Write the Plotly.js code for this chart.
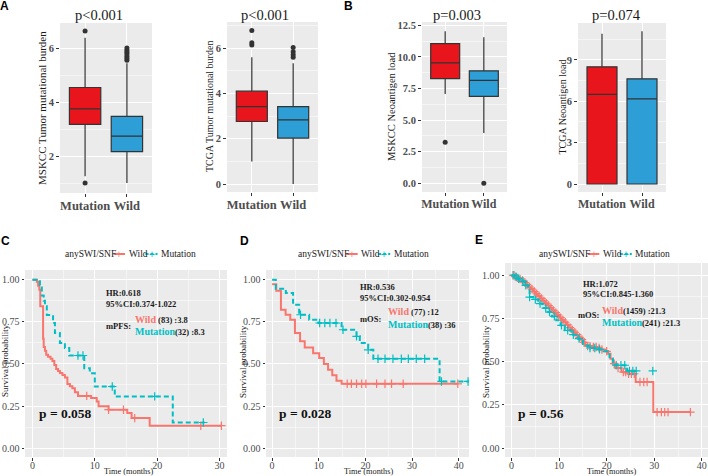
<!DOCTYPE html>
<html><head><meta charset="utf-8">
<script src="https://cdn.plot.ly/plotly-3.0.1.min.js"></script>
<style>html,body{margin:0;padding:0;background:#fff}#chart{width:708px;height:476px}</style>
</head><body><div id="chart"></div>
<script>
// ---------------- DATA ----------------
const boxCats = ['Mutation', 'Wild'];
// A left: MSKCC tumor mutational burden
const a1Q1 = [3.17, 2.16], a1Med = [3.75, 2.74], a1Q3 = [4.54, 3.47], a1Lo = [1.25, 1.0], a1Hi = [6.38, 5.44];
const a1OutMut = [1.0, 6.63], a1OutWild = [5.55, 5.62, 5.7, 5.78, 5.85, 5.92, 6.0];
// A right: TCGA tumor mutational burden
const a2Q1 = [2.76, 2.03], a2Med = [3.42, 2.83], a2Q3 = [4.1, 3.42], a2Lo = [1.0, 0.0], a2Hi = [5.6, 5.33];
const a2OutMut = [6.14, 6.24, 6.77], a2OutWild = [5.59, 5.7, 5.84, 6.02];
// B left: MSKCC neoantigen load
const b1Q1 = [8.28, 6.87], b1Med = [9.52, 8.14], b1Q3 = [11.05, 8.9], b1Lo = [7.06, 3.97], b1Hi = [12.03, 11.56];
const b1OutMut = [3.25], b1OutWild = [0.0];
// B right: TCGA neoantigen load
const b2Q1 = [0, 0], b2Med = [6.5, 6.18], b2Q3 = [8.5, 7.63], b2Lo = [0, 0], b2Hi = [10.9, 11.09];
const boxTitles = ['p<0.001', 'p<0.001', 'p=0.003', 'p=0.074'];
const boxYTitles = ['MSKCC Tumor mutational burden', 'TCGA Tumor mutational burden', 'MSKCC Neoantigen load', 'TCGA Neoantigen load'];

// C: PFS
const cWildT = [0, 0.7, 0.9, 1.1, 1.25, 1.7, 1.8, 2.0, 2.2, 2.5, 2.9, 3.2, 3.5, 3.8, 4.1, 4.4, 4.8, 5.2, 5.6, 6.0, 6.4, 6.8, 7.3, 9.4, 10.3, 10.6, 12.2, 15.2, 15.9, 18.8];
const cWildS = [1.0, 0.988, 0.964, 0.94, 0.843, 0.65, 0.60, 0.578, 0.554, 0.542, 0.53, 0.518, 0.494, 0.47, 0.458, 0.446, 0.434, 0.42, 0.38, 0.368, 0.356, 0.332, 0.31, 0.297, 0.277, 0.248, 0.228, 0.208, 0.178, 0.133];
const cWildEnd = 30.3;
const cWildCens = [8.7, 12.2, 14.6, 16.4, 27.0, 30.3];
const cMutT = [0, 1.2, 1.5, 1.8, 2.0, 2.3, 3.3, 3.6, 4.4, 5.2, 5.9, 8.3, 9.2, 10.0, 13.2, 22.5];
const cMutS = [1.0, 0.969, 0.906, 0.875, 0.843, 0.79, 0.743, 0.683, 0.624, 0.594, 0.55, 0.475, 0.445, 0.366, 0.307, 0.152];
const cMutEnd = 27.6;
const cMutCens = [7.3, 8.1, 12.8, 19.6, 27.4];

// D: OS
const dWildT = [0, 0.9, 1.9, 2.9, 3.9, 4.9, 6.0, 7.0, 8.8, 10.1, 11.1, 12.0, 12.9, 13.8, 14.9];
const dWildS = [0.974, 0.935, 0.822, 0.792, 0.763, 0.683, 0.634, 0.598, 0.564, 0.535, 0.499, 0.465, 0.432, 0.40, 0.382];
const dWildEnd = 39.8;
const dWildCens = [16.1, 17.0, 18.1, 19.2, 20.1, 22.4, 24.2, 25.6, 28.1, 39.8];
const dMutT = [0, 0.8, 2.95, 4.5, 5.8, 7.95, 9.9, 14.9, 18.1, 18.8, 20.6, 21.7, 35.9];
const dMutS = [1.0, 0.947, 0.921, 0.852, 0.792, 0.763, 0.743, 0.703, 0.664, 0.624, 0.584, 0.531, 0.396];
const dMutEnd = 42.2;
const dMutCens = [6.1, 10.2, 11.3, 12.4, 13.7, 15.2, 18.1, 20.6, 22.7, 24.2, 25.9, 27.7, 29.2, 30.9, 32.7, 36.3, 42.0];

// E: OS (TCGA)
const eWildT = [0, 0.5, 1.0, 1.5, 2.0, 2.5, 3.0, 3.5, 4.0, 4.5, 5.0, 5.5, 6.0, 6.5, 7.0, 7.5, 8.0, 8.5, 9.0, 9.5, 10.0, 10.5, 11.0, 11.5, 12.0, 12.5, 13.0, 13.5, 14.0, 14.5, 15.0, 15.5, 16.0, 17.0, 18.0, 18.8, 19.6, 20.3, 20.8, 21.3, 22.0, 23.1, 24.5, 26.1, 29.8];
const eWildS = [1.0, 0.992, 0.985, 0.978, 0.970, 0.958, 0.946, 0.932, 0.920, 0.906, 0.893, 0.880, 0.866, 0.852, 0.838, 0.825, 0.812, 0.797, 0.784, 0.770, 0.755, 0.741, 0.728, 0.713, 0.697, 0.683, 0.670, 0.656, 0.641, 0.628, 0.612, 0.598, 0.590, 0.585, 0.579, 0.570, 0.560, 0.546, 0.517, 0.488, 0.463, 0.44, 0.43, 0.382, 0.208];
const eWildEnd = 37.6;
const eWildCens = [0.3, 0.8, 1.3, 1.8, 2.3, 2.8, 3.3, 3.8, 4.3, 4.8, 5.3, 5.8, 6.3, 6.8, 7.3, 7.8, 8.3, 8.8, 9.3, 9.8, 10.3, 10.8, 11.3, 11.8, 12.3, 12.8, 13.3, 13.8, 14.3, 14.8, 15.3, 16.0, 16.5, 17.2, 17.8, 18.4, 19.0, 20.0, 21.6, 22.4, 23.5, 24.0, 24.6, 25.2, 25.8, 27.0, 27.8, 28.5, 30.6, 31.5, 32.2, 32.9, 37.6];
const eMutT = [0, 0.6, 1.2, 2.0, 2.8, 3.5, 3.8, 4.6, 5.6, 6.5, 7.7, 8.5, 9.4, 10.3, 11.2, 12.6, 14.0, 15.0, 16.1, 18.2, 19.4, 20.6, 21.3, 24.3];
const eMutS = [1.0, 0.99, 0.98, 0.965, 0.942, 0.92, 0.874, 0.86, 0.836, 0.81, 0.787, 0.762, 0.739, 0.71, 0.681, 0.656, 0.633, 0.594, 0.579, 0.571, 0.56, 0.517, 0.479, 0.446];
const eMutEnd = 26.2;
const eMutCens = [0.5, 1.0, 1.5, 2.4, 3.0, 3.8, 5.0, 6.0, 7.2, 8.0, 9.0, 10.5, 11.8, 13.0, 14.2, 16.5, 17.5, 18.5, 22.0, 23.0, 23.8, 24.8, 25.5, 26.2, 29.7];

const kmHR = ['HR:0.618', 'HR:0.536', 'HR:1.072'];
const kmCI = ['95%CI:0.374-1.022', '95%CI:0.302-0.954', '95%CI:0.845-1.360'];
const kmMedLabel = ['mPFS:', 'mOS:', 'mOS:'];
const kmWildTxt = [' (83) :3.8', ' (77) :12', '(1459) :21.3'];
const kmMutTxt = ['(32) :8.3', '(38) :36', '(241) :21.3'];
const kmP = ['p = 0.058', 'p = 0.028', 'p = 0.56'];
const legendTitle = 'anySWI/SNF';
const groupNames = ['Wild', 'Mutation'];

// ---------------- STYLE / LAYOUT ----------------
const W = 708, H = 476;
const SERIF = 'Liberation Serif, Times New Roman, Times, serif';
const SANS = 'Liberation Sans, Arial, sans-serif';
const RED = '#F8766D', TEAL = '#00BFC4';
const BOXRED = '#E8161C', BOXBLUE = '#2E9FD6';
const BG = '#EBEBEB';
const px = v => v / W;
const py = v => 1 - v / H;

const traces = [];
const layout = {
  width: W, height: H, margin: {l: 0, r: 0, t: 0, b: 0},
  paper_bgcolor: '#fff', plot_bgcolor: BG, showlegend: false,
  annotations: [], shapes: [], font: {family: SERIF, color: '#333'}
};

function axName(n, base) { return base + (n === 1 ? '' : n); }

// box panels
const boxPanels = [
  {xl: 60, xr: 152, yt: 23, yb: 193, yr: [0.63, 6.93], dt: 2, fmt: '', q1: a1Q1, med: a1Med, q3: a1Q3, lo: a1Lo, hi: a1Hi, om: a1OutMut, ow: a1OutWild, tx: 99, ytx: 42, fs: 12.5},
  {xl: 227, xr: 318, yt: 22, yb: 192, yr: [-0.35, 7.15], dt: 2, fmt: '', q1: a2Q1, med: a2Med, q3: a2Q3, lo: a2Lo, hi: a2Hi, om: a2OutMut, ow: a2OutWild, tx: 265, ytx: 210, fs: 12.5},
  {xl: 422, xr: 507, yt: 22, yb: 192, yr: [-0.69, 12.76], dt: 2.5, fmt: '.1f', q1: b1Q1, med: b1Med, q3: b1Q3, lo: b1Lo, hi: b1Hi, om: b1OutMut, ow: b1OutWild, tx: 457, ytx: 392, fs: 12},
  {xl: 578, xr: 666, yt: 23, yb: 192, yr: [-0.58, 11.68], dt: 3, fmt: '', q1: b2Q1, med: b2Med, q3: b2Q3, lo: b2Lo, hi: b2Hi, om: [], ow: [], tx: 616, ytx: 562, fs: 12}
];
const ytSizes = [11, 10, 10.5, 10];

boxPanels.forEach((p, i) => {
  const n = i + 1;
  const xa = axName(n, 'x'), ya = axName(n, 'y');
  layout[axName(n, 'xaxis')] = {
    domain: [px(p.xl), px(p.xr)], anchor: ya, type: 'category', range: [-0.6, 1.6],
    showgrid: true, gridcolor: '#fff', gridwidth: 1, zeroline: false, showline: false,
    ticks: 'outside', ticklen: 3, tickcolor: '#333', tickwidth: 1, tickangle: 0, ticklabelstandoff: -2,
    tickfont: {family: SERIF, size: p.fs, color: '#4D4D4D', weight: 'bold'}
  };
  layout[axName(n, 'yaxis')] = {
    domain: [py(p.yb), py(p.yt)], anchor: xa, range: p.yr, tick0: 0, dtick: p.dt, tickformat: p.fmt,
    showgrid: true, gridcolor: '#fff', gridwidth: 1, zeroline: false, showline: false,
    minor: {dtick: p.dt / 2, tick0: 0, showgrid: true, gridcolor: '#fff', gridwidth: 0.5, ticks: ''},
    ticks: 'outside', ticklen: 3, tickcolor: '#333', tickwidth: 1,
    tickfont: {family: SERIF, size: 10.5, color: '#4D4D4D', weight: 'bold'}
  };
  [0, 1].forEach(k => {
    traces.push({
      type: 'box', x: [boxCats[k]], q1: [p.q1[k]], median: [p.med[k]], q3: [p.q3[k]],
      lowerfence: [p.lo[k]], upperfence: [p.hi[k]], width: 0.75, whiskerwidth: 0,
      fillcolor: k === 0 ? BOXRED : BOXBLUE, line: {color: '#333', width: 1.2},
      boxpoints: false, showlegend: false, hoverinfo: 'skip', xaxis: xa, yaxis: ya
    });
  });
  const ox = p.om.map(() => boxCats[0]).concat(p.ow.map(() => boxCats[1]));
  const oy = p.om.concat(p.ow);
  if (oy.length) traces.push({
    type: 'scatter', mode: 'markers', x: ox, y: oy, xaxis: xa, yaxis: ya, showlegend: false,
    marker: {color: '#333', size: 5}, hoverinfo: 'skip'
  });
  layout.annotations.push({text: boxTitles[i], xref: 'paper', yref: 'paper', x: px(p.tx), y: py(15.5),
    xanchor: 'center', yanchor: 'middle', showarrow: false, font: {family: SERIF, size: 14.5, color: '#1a1a1a'}});
  layout.annotations.push({text: boxYTitles[i], xref: 'paper', yref: 'paper', x: px(p.ytx), y: py((p.yt + p.yb) / 2),
    xanchor: 'center', yanchor: 'middle', textangle: -90, showarrow: false, font: {family: SERIF, size: ytSizes[i], color: '#1a1a1a'}});
});

// KM panels
function stepAt(T, S, t) { let v = S[0]; for (let j = 0; j < T.length; j++) { if (T[j] <= t) v = S[j]; } return v; }
const kmPanels = [
  {xl: 25, xr: 227, yt: 270, yb: 457, xr_: [-1.2, 31.2], yr: [-0.053, 1.058], wT: cWildT, wS: cWildS, wE: cWildEnd, wC: cWildCens, mT: cMutT, mS: cMutS, mE: cMutEnd, mC: cMutCens,
   legDx: 0, hrX: 104, hrY: 293, ciY: 304, medX: 104, medY: 325.5, wX: 133, wY: 319.5, mY: 331, pX: 37, pY: 413.5, ytX: 5, xtX: 128},
  {xl: 266, xr: 469, yt: 270, yb: 457, xr_: [-1.3, 42.2], yr: [-0.053, 1.058], wT: dWildT, wS: dWildS, wE: dWildEnd, wC: dWildCens, mT: dMutT, mS: dMutS, mE: dMutEnd, mC: dMutCens,
   legDx: 232.7, hrX: 358, hrY: 287, ciY: 297.5, medX: 358, medY: 318.5, wX: 386.5, wY: 311.3, mY: 324.7, pX: 277, pY: 413.5, ytX: 243, xtX: 368},
  {xl: 505, xr: 708, yt: 263, yb: 457, xr_: [-1.37, 41.3], yr: [-0.052, 1.071], wT: eWildT, wS: eWildS, wE: eWildEnd, wC: eWildCens, mT: eMutT, mS: eMutS, mE: eMutEnd, mC: eMutCens,
   legDx: 474.3, hrX: 580.5, hrY: 284.3, ciY: 294.3, medX: 576, medY: 314.7, wX: 599.5, wY: 310.3, mY: 322, pX: 516, pY: 413.5, ytX: 486, xtX: 611}
];
const letters = [['A', 4.5, 6.5], ['B', 348, 6.5], ['C', 5, 241], ['D', 244, 241], ['E', 478.5, 240]];

kmPanels.forEach((p, i) => {
  const n = i + 5;
  const xa = axName(n, 'x'), ya = axName(n, 'y');
  layout[axName(n, 'xaxis')] = {
    domain: [px(p.xl), px(p.xr)], anchor: ya, range: p.xr_, tick0: 0, dtick: 10,
    showgrid: true, gridcolor: '#fff', gridwidth: 1, zeroline: false, showline: false,
    minor: {dtick: 5, tick0: 0, showgrid: true, gridcolor: '#fff', gridwidth: 0.5, ticks: ''},
    ticks: 'outside', ticklen: 2.5, tickcolor: '#333', ticklabelstandoff: -4,
    tickfont: {family: SERIF, size: 10, color: '#4D4D4D'}
  };
  layout[axName(n, 'yaxis')] = {
    domain: [py(p.yb), py(p.yt)], anchor: xa, range: p.yr, tick0: 0, dtick: 0.25, tickformat: '.2f',
    showgrid: true, gridcolor: '#fff', gridwidth: 1, zeroline: false, showline: false,
    minor: {dtick: 0.125, tick0: 0, showgrid: true, gridcolor: '#fff', gridwidth: 0.5, ticks: ''},
    ticks: 'outside', ticklen: 2.5, tickcolor: '#333', tickfont: {family: SERIF, size: 10, color: '#4D4D4D'}
  };
  const curves = [
    {T: p.wT, S: p.wS, E: p.wE, C: p.wC, col: RED, dash: 'solid'},
    {T: p.mT, S: p.mS, E: p.mE, C: p.mC, col: TEAL, dash: '5px,3px'}
  ];
  curves.forEach(c => {
    traces.push({type: 'scatter', mode: 'lines', x: c.T.concat([c.E]), y: c.S.concat([c.S[c.S.length - 1]]),
      line: {shape: 'hv', color: c.col, width: 2, dash: c.dash}, xaxis: xa, yaxis: ya, showlegend: false, hoverinfo: 'skip'});
    traces.push({type: 'scatter', mode: 'markers', x: c.C, y: c.C.map(t => stepAt(c.T, c.S, t)),
      marker: {symbol: 'cross-thin', size: 6, line: {color: c.col, width: 1.2}}, xaxis: xa, yaxis: ya, showlegend: false, hoverinfo: 'skip'});
  });
  // legend (drawn as text + small key lines)
  const lf = {family: SERIF, size: 9.5, color: '#222'};
  const ly = 254, dx = p.legDx;
  const addL = (text, x, font, xanchor) => layout.annotations.push({text, xref: 'paper', yref: 'paper', x: px(x + dx), y: py(ly),
    xanchor: xanchor || 'left', yanchor: 'middle', showarrow: false, font: font || lf});
  addL(legendTitle, 63);
  layout.shapes.push({type: 'line', xref: 'paper', yref: 'paper', x0: px(113.5 + dx), x1: px(125 + dx), y0: py(ly), y1: py(ly), line: {color: RED, width: 2}});
  layout.shapes.push({type: 'line', xref: 'paper', yref: 'paper', x0: px(145.5 + dx), x1: px(157.5 + dx), y0: py(ly), y1: py(ly), line: {color: TEAL, width: 2, dash: '3px,2px'}});
  addL('+', 119.3, {family: SANS, size: 10, color: RED}, 'center');
  addL('+', 151.5, {family: SANS, size: 10, color: TEAL}, 'center');
  addL(groupNames[0], 126.5);
  addL(groupNames[1], 159);

  const af = {family: SERIF, size: 8.5, color: '#1a1a1a'};
  const add = (text, x, y, font, xanchor) => layout.annotations.push({text, xref: 'paper', yref: 'paper', x: px(x), y: py(y),
    xanchor: xanchor || 'left', yanchor: 'middle', showarrow: false, font: font || af});
  add('<b>' + kmHR[i] + '</b>', p.hrX, p.hrY);
  add('<b>' + kmCI[i] + '</b>', p.hrX, p.ciY);
  add('<b>' + kmMedLabel[i] + '</b>', p.medX, p.medY);
  add('<b><span style="color:' + RED + ';font-size:10px">' + groupNames[0] + '</span>' + kmWildTxt[i] + '</b>', p.wX, p.wY);
  add('<b><span style="color:' + TEAL + ';font-size:10px">' + groupNames[1] + '</span>' + kmMutTxt[i] + '</b>', p.wX, p.mY);
  add('<b>' + kmP[i] + '</b>', p.pX, p.pY, {family: SERIF, size: 13.5, color: '#111'});
  layout.annotations.push({text: 'Survival probability', xref: 'paper', yref: 'paper', x: px(p.ytX), y: py(361),
    xanchor: 'center', yanchor: 'middle', textangle: -90, showarrow: false, font: {family: SERIF, size: 9, color: '#1a1a1a'}});
  layout.annotations.push({text: 'Time (months)', xref: 'paper', yref: 'paper', x: px(p.xtX), y: py(471),
    xanchor: 'center', yanchor: 'middle', showarrow: false, font: {family: SERIF, size: 8.3, color: '#1a1a1a'}});
});

letters.forEach(l => layout.annotations.push({text: '<b>' + l[0] + '</b>', xref: 'paper', yref: 'paper', x: px(l[1]), y: py(l[2]),
  xanchor: 'center', yanchor: 'middle', showarrow: false, font: {family: SANS, size: 12, color: '#000'}}));

Plotly.newPlot('chart', traces, layout, {staticPlot: true, displayModeBar: false});
</script></body></html>
